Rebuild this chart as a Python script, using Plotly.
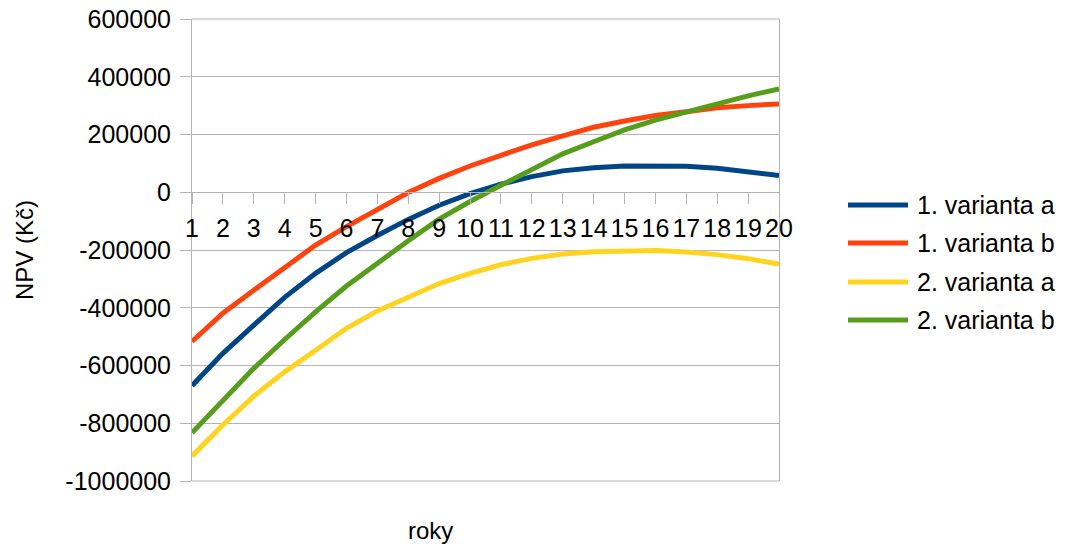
import plotly.graph_objects as go

# NPV by year for each investment variant (CZK)
years = list(range(1, 21))
year_labels = [str(y) for y in years]

var_1a = [-670000, -558000, -460000, -364000, -281000, -209000, -150000, -94000, -45000, -5000,
          28000, 54000, 74000, 85000, 91000, 92000, 90000, 83000, 71000, 58000]
var_1b = [-517000, -419000, -339000, -260000, -183000, -119000, -58000, -1000, 48000, 91000,
          128000, 164000, 195000, 225000, 247000, 266000, 279000, 293000, 300000, 306000]
var_2a = [-914000, -806000, -706000, -622000, -547000, -471000, -411000, -362000, -316000, -281000,
          -251000, -229000, -214000, -206000, -202000, -202000, -207000, -216000, -230000, -249000]
var_2b = [-833000, -723000, -610000, -510000, -414000, -325000, -244000, -168000, -93000, -32000,
          24000, 80000, 133000, 175000, 216000, 250000, 279000, 308000, 334000, 358000]

series_names = ["1. varianta a", "1. varianta b", "2. varianta a", "2. varianta b"]
series_values = [var_1a, var_1b, var_2a, var_2b]
series_colors = ["#004586", "#ff420e", "#ffd320", "#579d1c"]

y_ticks = [600000, 400000, 200000, 0, -200000, -400000, -600000, -800000, -1000000]
y_tick_labels = ["600000", "400000", "200000", "0", "-200000", "-400000", "-600000", "-800000", "-1000000"]

FONT = "Liberation Sans, Arial, sans-serif"
FS = 25
GRID = "#b3b3b3"
W, H = 1066, 550
M_L, M_R, M_T, M_B = 192, 287, 19, 69


def px_x(px):
    return (px - M_L) / (W - M_L - M_R)


def px_y(py):
    return (H - M_B - py) / (H - M_T - M_B)


fig = go.Figure()
for name, vals, col in zip(series_names, series_values, series_colors):
    fig.add_trace(go.Scatter(x=years, y=vals, name=name, mode="lines",
                             line=dict(color=col, width=5), showlegend=False))

# horizontal frame lines along the top and bottom edges of the plot area
for yp in (0, 1):
    fig.add_shape(type="line", xref="paper", yref="paper", x0=0, x1=1, y0=yp, y1=yp,
                  line=dict(color=GRID, width=1), layer="below")

# legend drawn at the right: swatch + label per series
legend_rows = [205, 243, 282, 320]
for name, col, row in zip(series_names, series_colors, legend_rows):
    fig.add_shape(type="line", xref="paper", yref="paper",
                  x0=px_x(848), x1=px_x(908), y0=px_y(row), y1=px_y(row),
                  line=dict(color=col, width=5))
    fig.add_annotation(xref="paper", yref="paper", x=px_x(915), y=px_y(row),
                       text=name, showarrow=False, xanchor="left", yanchor="middle",
                       font=dict(family=FONT, size=FS, color="#000000"))

# axis titles
fig.add_annotation(xref="paper", yref="paper", x=px_x(24), y=px_y(250), text="NPV (Kč)",
                   textangle=-90, showarrow=False, xanchor="center", yanchor="middle",
                   font=dict(family=FONT, size=FS - 1, color="#000000"))
fig.add_annotation(xref="paper", yref="paper", x=px_x(430), y=px_y(530), text="roky",
                   showarrow=False, xanchor="center", yanchor="middle",
                   font=dict(family=FONT, size=FS - 1, color="#000000"))

fig.update_layout(
    width=W, height=H,
    margin=dict(l=M_L, r=M_R, t=M_T, b=M_B, autoexpand=False),
    paper_bgcolor="white", plot_bgcolor="white",
    font=dict(family=FONT, size=FS, color="#000000"),
    xaxis=dict(range=[1, 20], tickvals=years, ticktext=year_labels,
               anchor="free", position=0.625,
               showgrid=False, zeroline=False,
               showline=True, linecolor=GRID, linewidth=1,
               ticks="outside", ticklen=11, tickcolor=GRID, tickwidth=1,
               ticklabelstandoff=3,
               tickfont=dict(family=FONT, size=FS, color="#000000")),
    yaxis=dict(range=[-1000000, 600000], tickvals=y_ticks, ticktext=y_tick_labels,
               showgrid=True, gridcolor=GRID, gridwidth=1,
               zeroline=False, showline=True, linecolor=GRID, linewidth=1, mirror=True,
               ticks="outside", ticklen=11, tickcolor=GRID, tickwidth=1,
               ticklabelstandoff=4,
               tickfont=dict(family=FONT, size=FS, color="#000000")),
)

fig.write_html("out.html")
